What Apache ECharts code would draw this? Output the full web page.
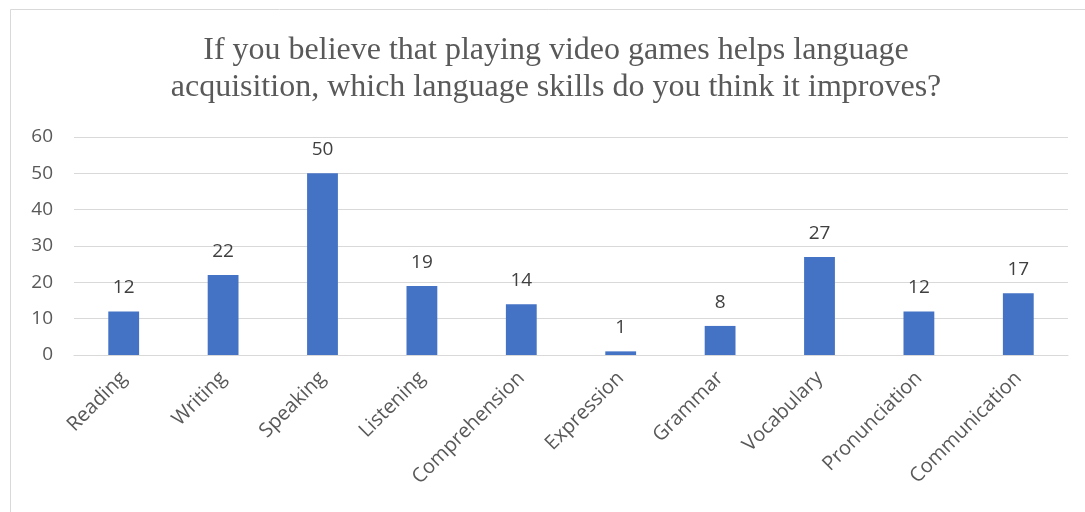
<!DOCTYPE html>
<html>
<head>
<meta charset="utf-8">
<script src="https://cdn.jsdelivr.net/npm/echarts@6/dist/echarts.min.js"></script>
<style>
html,body{margin:0;padding:0;background:#fff;}
#c{width:1085px;height:512px;}
</style>
</head>
<body>
<div id="c"></div>
<script>
const categories = ["Reading","Writing","Speaking","Listening","Comprehension","Expression","Grammar","Vocabulary","Pronunciation","Communication"];
const values = [12,22,50,19,14,1,8,27,12,17];
const titleText = "If you believe that playing video games helps language\nacquisition, which language skills do you think it improves?";

const chart = echarts.init(document.getElementById('c'), null, {renderer:'canvas'});
chart.setOption({
  animation:false,
  backgroundColor:'#ffffff',
  graphic:[{type:'rect',shape:{x:10.5,y:9.5,width:1200,height:700},style:{fill:'none',stroke:'#d9d9d9',lineWidth:1},silent:true,z:-1}],
  title:{
    text:titleText,
    left:551,
    textAlign:'center',
    top:27,
    textStyle:{fontFamily:'"Liberation Serif","Times New Roman",serif',fontSize:32,fontWeight:'normal',color:'#595959',lineHeight:37}
  },
  grid:{left:74,right:17,top:137,bottom:157,containLabel:false},
  xAxis:{
    type:'category',
    data:categories,
    axisLine:{lineStyle:{color:'#d9d9d9',width:1}},
    axisTick:{show:false},
    axisLabel:{rotate:45,color:'#595959',fontSize:20,fontFamily:'"Open Sans","Noto Sans",sans-serif',margin:20,interval:0}
  },
  yAxis:{
    type:'value',
    min:0,max:60,interval:10,
    axisLine:{show:false},
    axisTick:{show:false},
    splitLine:{lineStyle:{color:'#d9d9d9',width:1}},
    axisLabel:{color:'#595959',fontSize:19,fontFamily:'"Open Sans","Noto Sans",sans-serif',margin:21}
  },
  series:[{
    type:'bar',
    data:values,
    barWidth:'31%',
    itemStyle:{color:'#4472c4'},
    label:{show:true,position:'top',distance:14,color:'#404040',fontSize:19,fontFamily:'"Open Sans","Noto Sans",sans-serif'}
  }]
});
</script>
</body>
</html>
